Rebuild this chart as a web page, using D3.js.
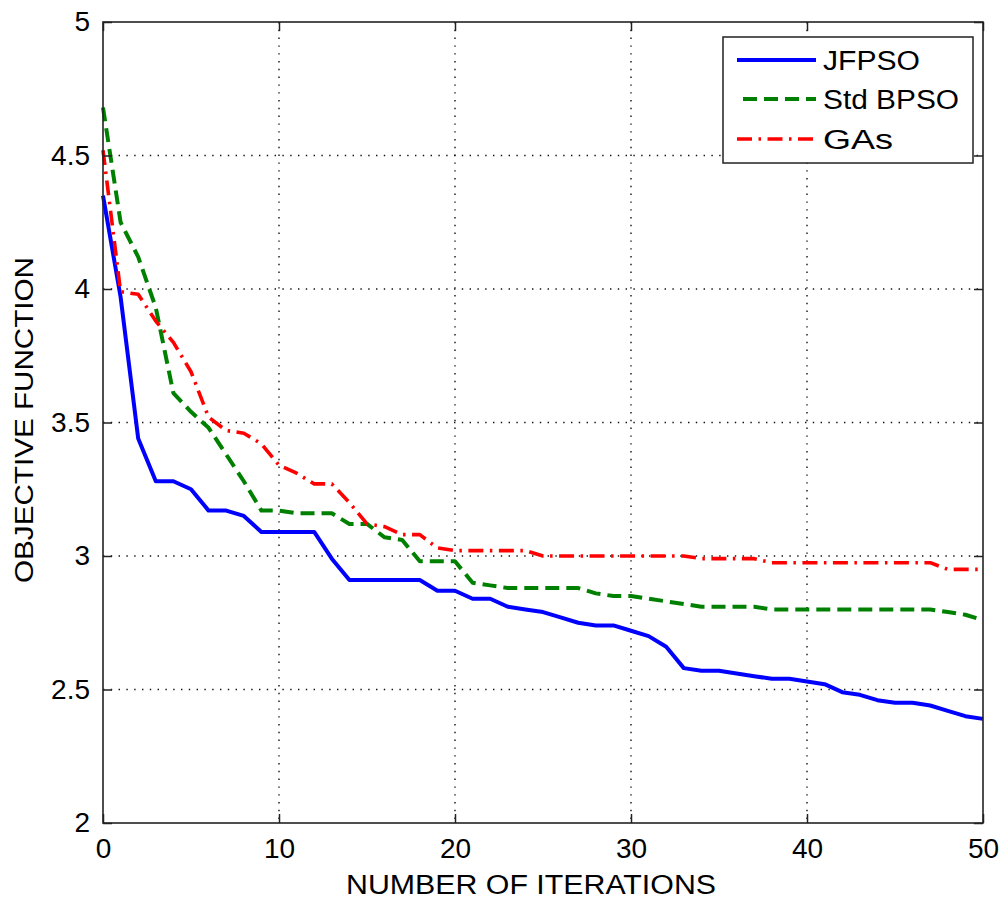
<!DOCTYPE html>
<html>
<head>
<meta charset="utf-8">
<script src="https://cdn.jsdelivr.net/npm/d3@7"></script>
<style>
  body { margin: 0; background: #fff; }
  svg text { font-family: "Liberation Sans", Arial, sans-serif; fill: #000; }
</style>
</head>
<body>
<div id="chart"></div>
<script>
// iterations 0..50
var iterations = d3.range(0, 51);

var jfpso = [4.35,3.97,3.44,3.28,3.28,3.25,3.17,3.17,3.15,3.09,
             3.09,3.09,3.09,2.99,2.91,2.91,2.91,2.91,2.91,2.87,
             2.87,2.84,2.84,2.81,2.80,2.79,2.77,2.75,2.74,2.74,
             2.72,2.70,2.66,2.58,2.57,2.57,2.56,2.55,2.54,2.54,
             2.53,2.52,2.49,2.48,2.46,2.45,2.45,2.44,2.42,2.40,2.39];

var stdBpso = [4.68,4.25,4.12,3.93,3.61,3.54,3.48,3.38,3.28,3.17,
               3.17,3.16,3.16,3.16,3.12,3.12,3.07,3.06,2.98,2.98,
               2.98,2.90,2.89,2.88,2.88,2.88,2.88,2.88,2.86,2.85,
               2.85,2.84,2.83,2.82,2.81,2.81,2.81,2.81,2.80,2.80,
               2.80,2.80,2.80,2.80,2.80,2.80,2.80,2.80,2.79,2.78,2.76];

var gas = [4.52,3.99,3.98,3.88,3.80,3.69,3.52,3.47,3.46,3.42,
           3.34,3.31,3.27,3.27,3.20,3.12,3.11,3.08,3.08,3.03,
           3.02,3.02,3.02,3.02,3.02,3.00,3.00,3.00,3.00,3.00,
           3.00,3.00,3.00,3.00,2.99,2.99,2.99,2.99,2.975,2.975,
           2.975,2.975,2.975,2.975,2.975,2.975,2.975,2.975,2.95,2.95,2.95];

var xTicks = [0, 10, 20, 30, 40, 50];
var yTicks = [2, 2.5, 3, 3.5, 4, 4.5, 5];
var seriesNames = ["JFPSO", "Std BPSO", "GAs"];

var width = 1005, height = 905;
var margin = { left: 103, top: 22, right: 22, bottom: 82 };
var w = width - margin.left - margin.right;   // 880
var h = height - margin.top - margin.bottom;  // 801

var svg = d3.select("#chart").append("svg")
    .attr("width", width).attr("height", height);

var x = d3.scaleLinear().domain([0, 50]).range([0, w]);
var y = d3.scaleLinear().domain([2, 5]).range([h, 0]);

var g = svg.append("g").attr("transform", "translate(" + margin.left + "," + margin.top + ")");

// grid (dotted)
g.append("g").selectAll("line").data(xTicks.slice(1, -1)).enter().append("line")
    .attr("x1", function(d) { return x(d); }).attr("x2", function(d) { return x(d); })
    .attr("y1", 0).attr("y2", h)
    .attr("stroke", "#111").attr("stroke-width", 1.4).attr("stroke-dasharray", "1.4,6.4");
g.append("g").selectAll("line").data(yTicks.slice(1, -1)).enter().append("line")
    .attr("y1", function(d) { return y(d); }).attr("y2", function(d) { return y(d); })
    .attr("x1", 0).attr("x2", w)
    .attr("stroke", "#111").attr("stroke-width", 1.4).attr("stroke-dasharray", "1.4,6.4");

// series
var line = d3.line()
    .x(function(d, i) { return x(iterations[i]); })
    .y(function(d) { return y(d); });

var series = [
  { name: seriesNames[0], values: jfpso,   color: "#0000ff", dash: null,              width: 4 },
  { name: seriesNames[1], values: stdBpso, color: "#008000", dash: "14,7",            width: 4 },
  { name: seriesNames[2], values: gas,     color: "#ff0000", dash: "15,6.5,2.5,6.5",  width: 3.6 }
];

g.selectAll("path.series").data(series).enter().append("path")
    .attr("class", "series")
    .attr("d", function(d) { return line(d.values); })
    .attr("fill", "none")
    .attr("stroke", function(d) { return d.color; })
    .attr("stroke-width", function(d) { return d.width; })
    .attr("stroke-dasharray", function(d) { return d.dash; })
    .attr("stroke-linejoin", "round");

// axes, ticks inward, on all four sides
var tickLen = 9;
g.append("g").attr("transform", "translate(0," + h + ")")
    .call(d3.axisBottom(x).tickValues(xTicks).tickSizeInner(-tickLen).tickSizeOuter(0).tickPadding(15))
    .call(function(a) { a.select(".domain").remove(); });
g.append("g")
    .call(d3.axisTop(x).tickValues(xTicks).tickSizeInner(-tickLen).tickSizeOuter(0).tickFormat(""))
    .call(function(a) { a.select(".domain").remove(); });
g.append("g")
    .call(d3.axisLeft(y).tickValues(yTicks).tickSizeInner(-tickLen).tickSizeOuter(0).tickPadding(13)
      .tickFormat(d3.format("")))
    .call(function(a) { a.select(".domain").remove(); });
g.append("g").attr("transform", "translate(" + w + ",0)")
    .call(d3.axisRight(y).tickValues(yTicks).tickSizeInner(-tickLen).tickSizeOuter(0).tickFormat(""))
    .call(function(a) { a.select(".domain").remove(); });

g.selectAll(".tick line").attr("stroke", "#222").attr("stroke-width", 1.5);
g.selectAll(".tick text").attr("font-size", 28).attr("font-family", "Liberation Sans, Arial, sans-serif");

// frame
g.append("rect").attr("width", w).attr("height", h)
    .attr("fill", "none").attr("stroke", "#222").attr("stroke-width", 1.6);

// axis labels
svg.append("text")
    .attr("x", margin.left + w / 2 - 12).attr("y", 894)
    .attr("text-anchor", "middle").attr("font-size", 27)
    .attr("textLength", 370).attr("lengthAdjust", "spacingAndGlyphs")
    .text("NUMBER OF ITERATIONS");

svg.append("text")
    .attr("transform", "translate(33,420) rotate(-90)")
    .attr("text-anchor", "middle").attr("font-size", 26)
    .attr("textLength", 326).attr("lengthAdjust", "spacingAndGlyphs")
    .text("OBJECTIVE FUNCTION");

// legend
var legend = svg.append("g").attr("transform", "translate(723,37)");
legend.append("rect").attr("width", 250).attr("height", 126)
    .attr("fill", "#fff").attr("stroke", "#222").attr("stroke-width", 1.5);

var rowY = [23, 62, 102];
var legendTextLen = [97, 136, 70];
var item = legend.selectAll("g.item").data(series).enter().append("g")
    .attr("class", "item")
    .attr("transform", function(d, i) { return "translate(0," + rowY[i] + ")"; });
item.append("line")
    .attr("x1", function(d, i) { return i === 1 ? 20 : 14; }).attr("x2", 93)
    .attr("stroke", function(d) { return d.color; })
    .attr("stroke-width", function(d) { return d.width; })
    .attr("stroke-dasharray", function(d) { return d.dash; });
item.append("text")
    .attr("x", 100).attr("dy", "0.36em").attr("font-size", 27)
    .attr("textLength", function(d, i) { return legendTextLen[i]; })
    .attr("lengthAdjust", "spacingAndGlyphs")
    .text(function(d) { return d.name; });
</script>
</body>
</html>
